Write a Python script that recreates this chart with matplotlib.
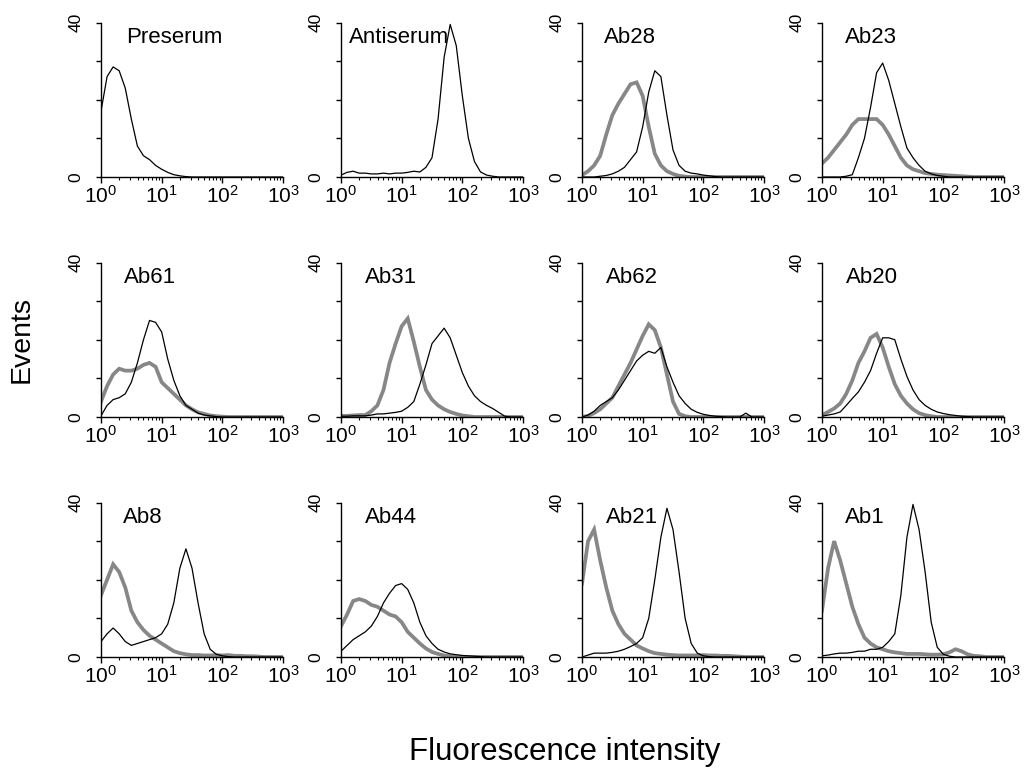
import numpy as np
import matplotlib
matplotlib.use('Agg')
import matplotlib.pyplot as plt
from matplotlib.ticker import LogLocator, NullFormatter, FixedLocator

plt.rcParams['font.family'] = ['Liberation Sans', 'DejaVu Sans']
plt.rcParams['mathtext.fontset'] = 'custom'
plt.rcParams['mathtext.rm'] = 'Liberation Sans'
plt.rcParams['mathtext.it'] = 'Liberation Sans'

# log10 of fluorescence intensity (channel positions)
log_intensity = [0.0, 0.1, 0.2, 0.3, 0.4, 0.5, 0.6, 0.7, 0.8, 0.9,
                 1.0, 1.1, 1.2, 1.3, 1.4, 1.5, 1.6, 1.7, 1.8, 1.9,
                 2.0, 2.1, 2.2, 2.3, 2.4, 2.5, 2.6, 2.7, 2.8, 2.9, 3.0]

panel_names = ["Preserum", "Antiserum", "Ab28", "Ab23",
               "Ab61", "Ab31", "Ab62", "Ab20",
               "Ab8", "Ab44", "Ab21", "Ab1"]

# Events (counts) per channel; gray = control, black = antibody
preserum_black = [17, 26, 28.5, 27.5, 23, 15, 8, 5.5, 4.5, 3, 2, 1.2, 0.6, 0.3, 0.1,
                  0, 0, 0, 0, 0, 0, 0, 0, 0, 0, 0, 0, 0, 0, 0, 0]
antiserum_black = [0.5, 1.2, 1.5, 1, 1, 0.8, 0.8, 1, 0.8, 1, 1, 1.2, 1.5, 1.3, 2.5, 5,
                   15, 31, 39.5, 34, 21, 10, 4, 1.3, 0.5, 0.2, 0, 0, 0, 0, 0]
ab28_gray = [0.5, 1.5, 3, 5.5, 11, 16, 19, 21.5, 24, 24.5, 21, 13, 6, 3, 1.5, 0.8, 0.3, 0.1,
             0, 0, 0, 0, 0, 0, 0, 0, 0, 0, 0, 0, 0]
ab28_black = [0, 0, 0, 0.2, 0.4, 0.8, 1.5, 2.5, 4.5, 6.5, 13, 22, 27.5, 26, 16, 7, 3, 1.5,
              1, 0.8, 0.5, 0.3, 0.1, 0, 0, 0, 0, 0, 0, 0, 0]
ab23_gray = [3.5, 5, 7, 9, 11, 13.5, 15, 15, 15, 15, 13.5, 11, 8, 5, 3, 2, 1.5, 1, 0.8, 0.6,
             0.5, 0.4, 0.3, 0.2, 0.1, 0, 0, 0, 0, 0, 0]
ab23_black = [0, 0, 0, 0, 0.2, 0.6, 5, 10, 18, 27, 29.5, 25, 19, 13, 7.5, 5, 3, 1.5, 0.8,
              0.4, 0.2, 0, 0, 0, 0, 0, 0, 0, 0, 0, 0]
ab61_gray = [4, 8, 11, 12.5, 12, 12, 12.5, 13.5, 14, 13, 9, 7.5, 6, 4.5, 3, 2, 1.2, 0.8,
             0.4, 0.2, 0.1, 0, 0, 0, 0, 0, 0, 0, 0, 0, 0]
ab61_black = [0.3, 3, 4.5, 5, 6, 9, 14, 20, 25, 24.5, 22, 15, 9.5, 5.5, 3, 2, 1, 0.5, 0.3,
              0.1, 0, 0, 0, 0, 0, 0, 0, 0, 0, 0, 0]
ab31_gray = [0.3, 0.3, 0.4, 0.5, 0.5, 1.5, 3, 7, 14, 19, 23.5, 25.5, 19.5, 13, 7, 4.5, 3, 2,
             1.3, 0.8, 0.4, 0.2, 0, 0, 0, 0, 0, 0, 0, 0, 0]
ab31_black = [0.2, 0.2, 0.3, 0.3, 0.3, 0.5, 0.8, 0.8, 1, 1.2, 1.5, 2.5, 4, 8.5, 13.5, 19,
              21, 23, 20.5, 16, 11.5, 8, 5.5, 4, 3, 2.2, 1.2, 0.2, 0, 0, 0]
ab62_gray = [0, 0.3, 1, 2, 3.5, 5, 8, 11, 14, 17.5, 21, 24, 22.5, 18, 11, 4, 0.8, 0.2,
             0, 0, 0, 0, 0, 0, 0, 0, 0, 0, 0, 0, 0]
ab62_black = [0, 0.5, 1.5, 3, 4, 5, 7, 9.5, 12, 14.5, 16, 17, 16.5, 18, 13, 9, 5.5, 3.5, 2,
              1.2, 0.7, 0.4, 0.2, 0.1, 0, 0, 0, 1, 0, 0, 0]
ab20_gray = [0.5, 1.3, 2.2, 3.5, 6, 9.5, 14, 17, 20.5, 21.5, 18, 13, 8.5, 5.5, 3.5, 2, 1,
             0.5, 0.2, 0, 0, 0, 0, 0, 0, 0, 0, 0, 0, 0, 0]
ab20_black = [0.2, 0.5, 0.8, 1.3, 3, 4.8, 6.5, 9, 12, 16.5, 20.5, 20.5, 20, 15, 10.5, 7,
              4.5, 3, 2, 1.3, 0.9, 0.6, 0.4, 0.2, 0.1, 0, 0, 0, 0, 0, 0]
ab8_gray = [16, 20, 24, 22, 18, 12, 9, 7, 5.5, 4.5, 3.5, 2.5, 1.5, 1, 0.7, 0.5, 0.5, 0.4,
            0.4, 0.5, 0.4, 0.5, 0.3, 0.3, 0.2, 0.2, 0.1, 0, 0, 0, 0]
ab8_black = [4, 6, 7.5, 6, 4, 3, 3.5, 4, 4.5, 5, 6, 8.5, 14, 23, 28, 23, 14, 6, 2, 0.7, 0.3,
             0.1, 0, 0, 0, 0, 0, 0, 0, 0, 0]
ab44_gray = [8, 11, 14.5, 15, 14.5, 13.5, 13, 12, 11, 10.5, 9, 6.5, 5, 3.5, 2.2, 1.3, 0.8,
             0.4, 0.2, 0, 0, 0, 0, 0, 0, 0, 0, 0, 0, 0, 0]
ab44_black = [1.5, 3, 4.5, 5.5, 6.5, 8, 10.5, 14, 16.5, 18.5, 19, 17.5, 14, 9, 5.5, 3.5, 2,
              1.3, 0.8, 0.6, 0.4, 0.3, 0.2, 0.1, 0, 0, 0, 0, 0, 0, 0]
ab21_gray = [19, 30, 33, 25, 18, 12, 8.5, 6, 4.5, 3, 2.2, 1.5, 1, 0.8, 0.6, 0.5, 0.4, 0.4,
             0.4, 0.4, 0.5, 0.4, 0.4, 0.3, 0.3, 0.2, 0.1, 0, 0, 0, 0]
ab21_black = [0, 0.5, 1, 1, 1, 1.2, 1.5, 2, 2.7, 3.5, 5, 10, 20, 31, 38.5, 33, 22, 10, 3.5,
              1, 0.3, 0.1, 0, 0, 0, 0, 0, 0, 0, 0, 0]
ab1_gray = [12, 23, 30, 25, 19, 13, 8.5, 5, 3.5, 2.5, 2, 1.5, 1.2, 1, 0.8, 0.8, 0.8, 0.7,
            0.6, 0.6, 0.7, 1.2, 2, 1.5, 0.7, 0.3, 0.2, 0, 0, 0, 0]
ab1_black = [0.3, 0.5, 0.8, 1, 1, 1.2, 1.5, 1.5, 2, 2, 2.5, 4, 6, 16, 31, 39.5, 33, 22, 9,
             2.5, 0.7, 0.2, 0, 0, 0, 0, 0, 0, 0, 0, 0]

gray_series = [None, None, ab28_gray, ab23_gray,
               ab61_gray, ab31_gray, ab62_gray, ab20_gray,
               ab8_gray, ab44_gray, ab21_gray, ab1_gray]
black_series = [preserum_black, antiserum_black, ab28_black, ab23_black,
                ab61_black, ab31_black, ab62_black, ab20_black,
                ab8_black, ab44_black, ab21_black, ab1_black]

x_tick_values = [1, 10, 100, 1000]
x_tick_labels = [r'$10^{0}$', r'$10^{1}$', r'$10^{2}$', r'$10^{3}$']
y_tick_values = [0, 10, 20, 30, 40]
y_tick_labels = ['0', '', '', '', '40']

x = 10 ** np.array(log_intensity)

W, H = 1027, 777
fig = plt.figure(figsize=(W / 100, H / 100), dpi=100)

col_left = [101, 341, 582, 822]
row_bottom = [177, 417, 657]
ax_w, ax_h = 182, 154.5
title_x = [0.137, 0.044, 0.12, 0.126, 0.126, 0.13, 0.13, 0.13, 0.12, 0.13, 0.13, 0.126]

for i, name in enumerate(panel_names):
    r, c = divmod(i, 4)
    ax = fig.add_axes([col_left[c] / W, 1 - row_bottom[r] / H, ax_w / W, ax_h / H])
    if gray_series[i] is not None:
        ax.plot(x, gray_series[i], color='#878787', lw=2.7, solid_joinstyle='miter')
    ax.plot(x, black_series[i], color='black', lw=0.9)
    ax.set_xscale('log')
    ax.set_xlim(1, 1000)
    ax.set_ylim(0, 40)
    for s in ['top', 'right']:
        ax.spines[s].set_visible(False)
    for s in ['left', 'bottom']:
        ax.spines[s].set_linewidth(1.0)
    ax.xaxis.set_major_locator(FixedLocator(x_tick_values))
    ax.set_xticklabels(x_tick_labels, fontsize=15)
    ax.xaxis.set_minor_locator(LogLocator(base=10, subs=range(2, 10)))
    ax.xaxis.set_minor_formatter(NullFormatter())
    ax.set_yticks(y_tick_values)
    ax.set_yticklabels(y_tick_labels, rotation=90, va='center', fontsize=12.5)
    ax.tick_params(axis='x', which='major', direction='out', length=4.5, width=1.0, pad=1)
    ax.tick_params(axis='x', which='minor', direction='out', length=2.3, width=0.8)
    ax.tick_params(axis='y', which='major', direction='out', length=3.5, width=1.0, pad=9)
    ax.text(title_x[i], 0.9, name, transform=ax.transAxes, fontsize=16,
            ha='left', va='center')

fig.text(22 / W, 1 - 340 / H, 'Events', rotation=90, fontsize=20.5,
         ha='center', va='center')
fig.text(565 / W, 1 - 752 / H, 'Fluorescence intensity', fontsize=22.5,
         ha='center', va='center')

fig.savefig('out.png', dpi=100)
